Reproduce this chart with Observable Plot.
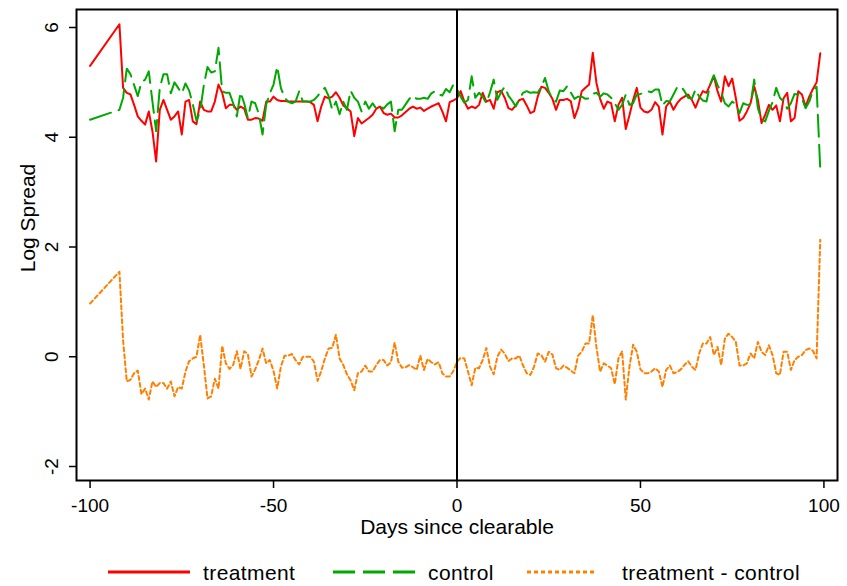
<!DOCTYPE html>
<html><head><meta charset="utf-8">
<script src="https://cdn.jsdelivr.net/npm/d3@7"></script>
<script src="https://cdn.jsdelivr.net/npm/@observablehq/plot@0.6"></script>
<style>
body{margin:0;background:#fff;font-family:Arial,"Liberation Sans",sans-serif;}
#wrap{position:relative;width:847px;height:586px;background:#fff;}
#legend{position:absolute;left:0;top:545px;width:847px;height:41px;}
.item{position:absolute;top:0;height:41px;display:flex;align-items:center;font-size:21px;letter-spacing:0.4px;color:#000;white-space:nowrap;}
.sw{position:absolute;top:0;}
</style></head><body><div id="wrap"><div id="chart"></div><div id="legend"></div></div>
<script>
const days = [-100,
-92,-91,-90,-89,-88,-87,-86,-85,-84,-83,
-82,-81,-80,-79,-78,-77,-76,-75,-74,-73,
-72,-71,-70,-69,-68,-67,-66,-65,-64,-63,
-62,-61,-60,-59,-58,-57,-56,-55,-54,-53,
-52,-51,-50,-49,-48,-47,-46,-45,-44,-43,
-42,-41,-40,-39,-38,-37,-36,-35,-34,-33,
-32,-31,-30,-29,-28,-27,-26,-25,-24,-23,
-22,-21,-20,-19,-18,-17,-16,-15,-14,-13,
-12,-11,-10,-9,-8,-7,-6,-5,-4,-3,
-2,-1,0,1,2,3,4,5,6,7,
8,9,10,11,12,13,14,15,16,17,
18,19,20,21,22,23,24,25,26,27,
28,29,30,31,32,33,34,35,36,37,
38,39,40,41,42,43,44,45,46,47,
48,49,50,51,52,53,54,55,56,57,
58,59,60,61,62,63,64,65,66,67,
68,69,70,71,72,73,74,75,76,77,
78,79,80,81,82,83,84,85,86,87,
88,89,90,91,92,93,94,95,96,97,
98,99];

const treatment = [5.30,
6.06,4.90,4.81,4.78,4.59,4.38,4.30,4.23,4.47,4.11,
3.56,4.50,4.68,4.50,4.32,4.38,4.47,4.05,4.65,4.68,
4.29,4.24,4.65,4.50,4.47,4.47,4.65,4.96,4.81,4.53,
4.59,4.59,4.50,4.56,4.52,4.32,4.32,4.35,4.34,4.30,
4.65,4.65,4.74,4.68,4.66,4.66,4.65,4.65,4.65,4.65,
4.65,4.65,4.64,4.59,4.29,4.56,4.74,4.71,4.74,4.82,
4.72,4.58,4.53,4.47,4.02,4.35,4.25,4.30,4.35,4.41,
4.52,4.56,4.44,4.41,4.43,4.36,4.36,4.40,4.46,4.52,
4.56,4.52,4.54,4.48,4.52,4.56,4.59,4.62,4.47,4.29,
4.64,4.67,4.71,4.84,4.65,4.52,4.56,4.53,4.59,4.81,
4.65,4.68,4.52,4.82,4.85,4.72,4.53,4.50,4.58,4.68,
4.70,4.58,4.44,4.47,4.74,4.92,4.90,4.81,4.70,4.50,
4.68,4.68,4.70,4.66,4.35,4.53,4.84,4.90,4.96,5.54,
4.99,4.70,4.52,4.65,4.62,4.29,4.59,4.72,4.15,4.40,
4.68,4.90,4.54,4.47,4.45,4.50,4.64,4.56,4.05,4.56,
4.65,4.50,4.62,4.70,4.74,4.78,4.68,4.54,4.71,4.84,
4.81,4.96,5.11,4.84,4.65,5.11,4.93,5.07,4.71,4.30,
4.35,4.47,4.62,4.93,4.68,4.26,4.41,4.59,4.50,4.58,
4.29,4.71,4.81,4.29,4.35,4.84,4.78,4.56,4.74,4.88,
5.00,5.53];

const control = [4.32,
4.50,4.72,5.25,5.15,4.95,4.75,5.00,5.05,5.20,4.65,
4.11,4.90,5.15,5.15,4.80,5.00,4.90,4.80,4.98,4.85,
4.60,4.30,4.47,4.95,5.28,5.18,5.20,5.63,4.84,4.81,
4.81,4.62,4.38,4.82,4.62,4.35,4.65,4.62,4.42,4.05,
4.60,4.80,4.96,5.29,4.90,4.72,4.65,4.62,4.65,4.84,
4.65,4.65,4.65,4.68,4.75,4.84,4.90,4.75,4.50,4.65,
4.42,4.65,4.50,4.85,4.72,4.65,4.47,4.65,4.52,4.62,
4.52,4.56,4.52,4.60,4.65,4.11,4.50,4.50,4.60,4.70,
4.76,4.70,4.70,4.72,4.70,4.80,4.84,4.78,4.76,4.88,
4.82,4.96,4.87,4.74,4.63,4.68,5.11,4.72,4.81,4.74,
4.62,4.82,5.05,4.68,4.82,4.92,4.76,4.67,4.56,4.70,
4.81,4.84,4.81,4.82,4.81,4.92,5.08,4.84,4.70,4.65,
4.85,4.84,4.93,4.82,4.70,4.74,4.74,4.70,4.71,4.79,
4.81,4.74,4.80,4.78,4.72,4.62,4.50,4.59,4.78,4.59,
4.62,4.78,4.79,4.81,4.84,4.82,4.87,4.87,4.58,4.66,
4.65,4.78,4.91,4.93,4.84,4.72,4.70,4.87,4.74,4.67,
4.65,4.96,5.13,4.95,4.82,4.62,4.56,4.65,4.60,4.44,
4.62,4.59,4.60,5.05,4.53,4.32,4.29,4.48,4.64,4.90,
4.72,4.65,4.52,4.62,4.79,4.78,4.71,4.53,4.65,4.85,
4.92,3.42];

const difference = [0.97,
1.55,0.30,-0.45,-0.42,-0.30,-0.25,-0.68,-0.58,-0.78,-0.45,
-0.55,-0.48,-0.48,-0.58,-0.45,-0.72,-0.55,-0.58,-0.27,-0.08,
-0.03,0.00,0.40,-0.15,-0.76,-0.72,-0.40,-0.58,0.20,-0.12,
-0.22,-0.15,0.10,-0.22,0.10,0.05,-0.36,-0.23,-0.06,0.15,
-0.12,-0.06,-0.26,-0.58,-0.18,0.02,0.02,0.05,-0.06,-0.14,
0.00,0.00,0.00,-0.09,-0.44,-0.26,-0.03,0.15,0.16,0.40,
-0.03,-0.15,-0.32,-0.43,-0.61,-0.30,-0.27,-0.16,-0.27,-0.27,
-0.15,-0.06,-0.06,-0.16,-0.10,0.26,-0.09,-0.20,-0.19,-0.15,
-0.19,-0.24,0.02,-0.24,-0.04,-0.10,-0.14,-0.10,-0.30,-0.36,
-0.36,-0.26,-0.09,-0.02,-0.03,-0.27,-0.52,-0.20,-0.21,-0.06,
0.16,-0.18,-0.32,0.00,0.13,0.06,-0.08,-0.03,-0.03,0.02,
-0.16,-0.30,-0.33,-0.18,0.06,0.03,-0.09,0.09,0.04,-0.21,
-0.24,-0.16,-0.20,-0.25,-0.30,0.02,0.09,0.24,0.24,0.76,
0.18,-0.27,-0.12,-0.16,-0.21,-0.50,-0.03,0.10,-0.78,-0.18,
0.22,0.09,-0.23,-0.30,-0.30,-0.27,-0.21,-0.27,-0.55,-0.24,
-0.16,-0.30,-0.28,-0.23,-0.15,-0.08,-0.18,-0.24,0.06,0.24,
0.24,0.36,0.03,0.18,-0.15,0.33,0.42,0.36,0.27,-0.16,
-0.16,-0.12,0.06,-0.03,0.27,0.09,0.03,0.21,0.03,-0.30,
-0.33,0.09,0.09,-0.24,-0.06,0.00,0.03,0.12,0.15,0.11,
-0.03,2.13];

const xTicks = [-100, -50, 0, 50, 100];
const yTicks = [-2, 0, 2, 4, 6];
const xTitle = ["Days since clearable"];
const yTitle = ["Log Spread"];
const legendLabels = ["treatment", "control", "treatment - control"];

const tRows = days.map((d, i) => ({day: d, value: treatment[i]}));
const cRows = days.map((d, i) => ({day: d, value: control[i]}));
const dRows = days.map((d, i) => ({day: d, value: difference[i]}));

const RED = "#ff0000", GREEN = "#00a800", ORANGE = "#ff8000";
const FONT = "Arial, 'Liberation Sans', sans-serif";

const chart = Plot.plot({
  width: 847,
  height: 545,
  marginLeft: 76,
  marginRight: 10,
  marginTop: 9,
  marginBottom: 65,
  style: {fontFamily: FONT, background: "white", color: "black", overflow: "visible"},
  x: {domain: [-103.7, 103.7]},
  y: {domain: [-2.255, 6.328]},
  marks: [
    Plot.line(tRows, {x: "day", y: "value", stroke: RED, strokeWidth: 2}),
    Plot.line(cRows, {x: "day", y: "value", stroke: GREEN, strokeWidth: 2, strokeDasharray: "22,8"}),
    Plot.line(dRows, {x: "day", y: "value", stroke: ORANGE, strokeWidth: 2, strokeDasharray: "4,3"}),
    Plot.ruleX([0], {stroke: "black", strokeWidth: 2}),
    Plot.frame({stroke: "black", strokeWidth: 2}),
    Plot.axisX({ticks: xTicks, tickFormat: d => String(d), tickSize: 8, tickPadding: 10, fontSize: 19,
      label: null, strokeWidth: 1.5}),
    Plot.axisY({ticks: yTicks, tickFormat: d => String(d), tickSize: 7, tickPadding: 12, fontSize: 19,
      tickRotate: -90, textAnchor: "middle", lineAnchor: "bottom", label: null, strokeWidth: 1.5}),
    Plot.text(xTitle, {text: d => d, frameAnchor: "bottom", dy: 47, textAnchor: "middle", lineAnchor: "middle", fontSize: 21}),
    Plot.text(yTitle, {text: d => d, frameAnchor: "left", dx: -48, dy: -27, rotate: -90, textAnchor: "middle", lineAnchor: "middle", fontSize: 21})
  ]
});
document.getElementById("chart").appendChild(chart);

// legend below the chart
const legend = d3.select("#legend");
const items = [
  {x1: 108, x2: 190, tx: 203, color: RED, dash: null},
  {x1: 333, x2: 415, tx: 428, color: GREEN, dash: "22,8"},
  {x1: 527, x2: 594, tx: 622, color: ORANGE, dash: "4,3"}
];
items.forEach((it, i) => {
  const svg = legend.append("svg").attr("class", "sw")
    .style("left", it.x1 + "px").attr("width", it.x2 - it.x1).attr("height", 41);
  svg.append("line").attr("x1", 0).attr("x2", it.x2 - it.x1).attr("y1", 27).attr("y2", 27)
    .attr("stroke", it.color).attr("stroke-width", 3).attr("stroke-dasharray", it.dash);
  legend.append("div").attr("class", "item").style("left", it.tx + "px").style("top", "7px")
    .text(legendLabels[i]);
});
</script></body></html>
